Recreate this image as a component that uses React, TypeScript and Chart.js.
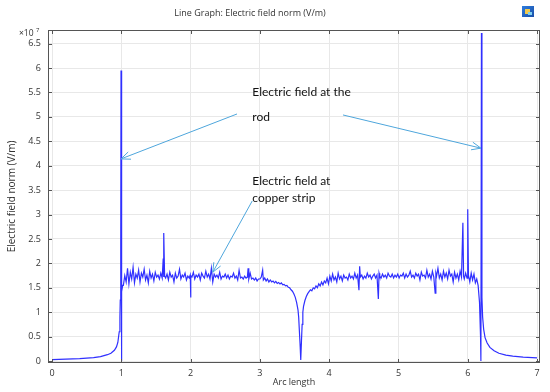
import React, { useEffect, useRef } from "react";
import { Chart, registerables } from "chart.js";

Chart.register(...registerables);

// ---- Data (arc length, electric field norm in units of 1e7 V/m) ----
const leftTail: [number, number][] = [
  [0, 0.03], [0.1, 0.035], [0.2, 0.04], [0.3, 0.045], [0.4, 0.05], [0.5, 0.06],
  [0.6, 0.07], [0.7, 0.09], [0.8, 0.13], [0.85, 0.16], [0.9, 0.22], [0.93, 0.29],
  [0.95, 0.38], [0.97, 0.6], [0.98, 0.9], [0.985, 1.25], [0.992, 2.4], [0.996, 5.95],
  [0.999, 0], [1.004, 1.3], [1.01, 1.42], [1.02, 1.55],
];

const stripLeft: [number, number][] = [
  [1.03, 1.55], [1.05, 1.75], [1.07, 1.62], [1.09, 1.9], [1.11, 1.58], [1.13, 1.82],
  [1.15, 1.68], [1.17, 1.92], [1.19, 1.6], [1.21, 1.78], [1.23, 1.7], [1.25, 1.86],
  [1.27, 1.62], [1.29, 1.8], [1.31, 1.72], [1.33, 1.88], [1.35, 1.66], [1.37, 1.76],
  [1.39, 1.6], [1.41, 1.84], [1.43, 1.7], [1.45, 1.78], [1.47, 1.64], [1.49, 1.82],
  [1.51, 1.72], [1.53, 1.76], [1.55, 1.68], [1.57, 1.8], [1.59, 1.7], [1.605, 2.1],
  [1.61, 1.72], [1.615, 2.62], [1.625, 1.74], [1.64, 1.7], [1.66, 1.78], [1.68, 1.66],
  [1.7, 1.82], [1.72, 1.72], [1.74, 1.76], [1.76, 1.62], [1.78, 1.8], [1.8, 1.7],
  [1.82, 1.74], [1.84, 1.88], [1.86, 1.68], [1.88, 1.76], [1.9, 1.72], [1.92, 1.8],
  [1.94, 1.66], [1.96, 1.74], [1.98, 1.7], [1.995, 1.76], [2.0, 1.3], [2.005, 1.74],
  [2.02, 1.72], [2.04, 1.82], [2.06, 1.68], [2.08, 1.76], [2.1, 1.72], [2.12, 1.78],
  [2.14, 1.66], [2.16, 1.8], [2.18, 1.74], [2.2, 1.7], [2.22, 1.84], [2.24, 1.72],
  [2.26, 1.78], [2.28, 1.68], [2.3, 1.9], [2.32, 1.62], [2.34, 1.78], [2.36, 1.72],
  [2.38, 1.76], [2.4, 1.7], [2.42, 1.82], [2.44, 1.68], [2.46, 1.74], [2.48, 1.72],
  [2.5, 1.78], [2.52, 1.7], [2.54, 1.76], [2.56, 1.68], [2.58, 1.74], [2.6, 1.72],
  [2.62, 1.8], [2.64, 1.7], [2.66, 1.74], [2.68, 1.66], [2.7, 1.86], [2.72, 1.7],
  [2.74, 1.72], [2.76, 1.68], [2.78, 1.74], [2.8, 1.7], [2.82, 1.72], [2.83, 1.9],
  [2.84, 1.68], [2.86, 1.8], [2.88, 1.68], [2.9, 1.7], [2.92, 1.66], [2.94, 1.7],
  [2.96, 1.64], [2.98, 1.68],
];

const centreDip: [number, number][] = [
  [3.0, 1.68], [3.02, 1.72], [3.04, 1.86], [3.05, 1.66], [3.07, 1.7], [3.09, 1.64],
  [3.11, 1.68], [3.13, 1.62], [3.15, 1.66], [3.17, 1.62], [3.19, 1.64], [3.21, 1.6],
  [3.23, 1.63], [3.25, 1.59], [3.27, 1.61], [3.29, 1.58], [3.31, 1.6], [3.33, 1.56],
  [3.35, 1.57], [3.37, 1.54], [3.39, 1.55], [3.41, 1.51], [3.43, 1.5], [3.45, 1.46],
  [3.47, 1.43], [3.49, 1.38], [3.51, 1.31], [3.53, 1.2], [3.55, 1.05], [3.56, 0.9],
  [3.57, 0.62], [3.58, 0.35], [3.59, 0.02], [3.6, 0.4], [3.61, 0.75], [3.62, 1.0],
  [3.63, 1.12], [3.65, 1.24], [3.67, 1.32], [3.69, 1.38], [3.71, 1.42], [3.73, 1.46],
  [3.75, 1.44], [3.77, 1.5], [3.79, 1.48], [3.81, 1.54], [3.83, 1.5], [3.85, 1.58],
  [3.87, 1.54], [3.89, 1.62], [3.91, 1.56], [3.93, 1.64], [3.95, 1.6],
];

const stripRight: [number, number][] = [
  [3.97, 1.7], [3.99, 1.58], [4.01, 1.74], [4.03, 1.64], [4.05, 1.78], [4.07, 1.66],
  [4.09, 1.72], [4.11, 1.62], [4.13, 1.8], [4.15, 1.68], [4.17, 1.74], [4.19, 1.64],
  [4.21, 1.76], [4.23, 1.7], [4.25, 1.72], [4.27, 1.66], [4.29, 1.78], [4.31, 1.7],
  [4.33, 1.74], [4.35, 1.68], [4.37, 1.8], [4.39, 1.7], [4.41, 1.76], [4.43, 1.45],
  [4.44, 1.94], [4.45, 1.72], [4.47, 1.76], [4.49, 1.68], [4.51, 1.74], [4.53, 1.7],
  [4.55, 1.8], [4.57, 1.72], [4.59, 1.76], [4.61, 1.68], [4.63, 1.74], [4.65, 1.78],
  [4.67, 1.7], [4.69, 1.76], [4.71, 1.27], [4.72, 1.8], [4.73, 1.74], [4.75, 1.7],
  [4.77, 1.78], [4.79, 1.72], [4.81, 1.76], [4.83, 1.7], [4.85, 1.8], [4.87, 1.74],
  [4.89, 1.72], [4.91, 1.78], [4.93, 1.7], [4.95, 1.76], [4.97, 1.72], [4.99, 1.78],
  [5.01, 1.7], [5.03, 1.76], [5.05, 1.74], [5.07, 1.8], [5.09, 1.7], [5.11, 1.78],
  [5.13, 1.72], [5.15, 1.76], [5.17, 1.84], [5.19, 1.72], [5.21, 1.76], [5.23, 1.7],
  [5.25, 1.8], [5.27, 1.74], [5.29, 1.78], [5.31, 1.66], [5.33, 1.82], [5.35, 1.74],
  [5.37, 1.76], [5.39, 1.7], [5.41, 1.86], [5.43, 1.72], [5.45, 1.78], [5.47, 1.68],
  [5.49, 1.84], [5.51, 1.72], [5.53, 1.39], [5.54, 1.8], [5.55, 1.74], [5.57, 1.9],
  [5.59, 1.7], [5.61, 1.78], [5.63, 1.66], [5.65, 1.84], [5.67, 1.72], [5.69, 1.8],
  [5.71, 1.68], [5.73, 1.86], [5.75, 1.74], [5.77, 1.78], [5.79, 1.62], [5.81, 1.82],
  [5.83, 1.7], [5.85, 1.78], [5.87, 1.66], [5.89, 1.84], [5.91, 1.72], [5.93, 2.83],
  [5.94, 1.74], [5.95, 1.68], [5.97, 1.8], [5.99, 1.7], [6.0, 3.11], [6.01, 1.76],
  [6.03, 1.62], [6.05, 1.8], [6.07, 1.66], [6.09, 1.78], [6.11, 1.6], [6.13, 1.68],
];

const rightTail: [number, number][] = [
  [6.15, 1.55], [6.17, 1.2], [6.185, 0.5], [6.19, 0.0], [6.198, 6.72], [6.205, 1.3],
  [6.215, 0.9], [6.23, 0.65], [6.25, 0.48], [6.28, 0.37], [6.32, 0.28], [6.38, 0.21],
  [6.45, 0.16], [6.55, 0.12], [6.65, 0.1], [6.8, 0.08], [7.0, 0.065],
];

const xTickValues = [0, 1, 2, 3, 4, 5, 6, 7];
const yTickValues = [0, 0.5, 1, 1.5, 2, 2.5, 3, 3.5, 4, 4.5, 5, 5.5, 6, 6.5];
const xLimits = [-0.058, 7.043];
const yLimits = [-0.04, 6.78];

const chartTitle = "Line Graph: Electric field norm (V/m)";
const xAxisTitle = "Arc length";
const yAxisTitle = "Electric field norm (V/m)";
const yExponent = "7";

const rodLabel = ["Electric field at the", "rod"];
const rodLabelAt = [2.89, 5.51];
const stripLabel = ["Electric field at", "copper strip"];
const stripLabelAt = [2.89, 3.69];
const arrows = [
  { from: [2.67, 5.06], to: [0.996, 4.14] },
  { from: [4.2, 5.04], to: [6.19, 4.36] },
  { from: [2.89, 3.28], to: [2.32, 1.82] },
];

const LINE_COLOR = "#3030ff";
const ARROW_COLOR = "#4ea6dc";
const AXIS_FONT = "'Open Sans', 'Liberation Sans', sans-serif";

const decorPlugin = {
  id: "decor",
  afterDraw(chart: any) {
    const ctx: CanvasRenderingContext2D = chart.ctx;
    const { left, right, top, bottom } = chart.chartArea;
    const xs = chart.scales.x;
    const ys = chart.scales.y;
    ctx.save();

    // frame
    ctx.strokeStyle = "#555";
    ctx.lineWidth = 1;
    ctx.strokeRect(Math.round(left) + 0.5, Math.round(top) + 0.5, Math.round(right - left) - 1, Math.round(bottom - top) - 1);

    // inside ticks
    ctx.beginPath();
    for (const v of xTickValues) {
      const px = Math.round(xs.getPixelForValue(v)) + 0.5;
      ctx.moveTo(px, bottom); ctx.lineTo(px, bottom - 4);
      ctx.moveTo(px, top); ctx.lineTo(px, top + 4);
    }
    for (const v of yTickValues) {
      const py = Math.round(ys.getPixelForValue(v)) + 0.5;
      ctx.moveTo(left, py); ctx.lineTo(left + 4, py);
      ctx.moveTo(right, py); ctx.lineTo(right - 4, py);
    }
    ctx.stroke();

    // titles
    ctx.fillStyle = "#333";
    ctx.textBaseline = "middle";
    ctx.textAlign = "center";
    ctx.font = `9px ${AXIS_FONT}`;
    ctx.fillText(chartTitle, 250, 13);
    ctx.fillText(xAxisTitle, (left + right) / 2, 382);
    ctx.save();
    ctx.translate(12, (top + bottom) / 2);
    ctx.rotate(-Math.PI / 2);
    ctx.font = `10px ${AXIS_FONT}`;
    ctx.fillText(yAxisTitle, 0, 0);
    ctx.restore();

    // exponent
    ctx.textAlign = "left";
    ctx.font = `8.5px ${AXIS_FONT}`;
    ctx.fillText("×10", 19, 34);
    ctx.font = `6px ${AXIS_FONT}`;
    ctx.fillText(yExponent, 36, 30);

    // icon
    const g = ctx.createLinearGradient(522, 5, 534, 17);
    g.addColorStop(0, "#2f7fe0");
    g.addColorStop(1, "#1a4fa8");
    ctx.fillStyle = g;
    ctx.fillRect(522, 6, 12, 11);
    ctx.fillStyle = "#f2c94c";
    ctx.fillRect(525, 9, 5, 5);
    ctx.fillStyle = "#7fd0f0";
    ctx.fillRect(528, 12, 4, 3);

    // annotation text
    ctx.fillStyle = "#111";
    ctx.font = "12px Lato, 'Open Sans', sans-serif";
    ctx.textAlign = "left";
    const drawLabel = (lines: string[], at: number[], gap: number) => {
      const x0 = xs.getPixelForValue(at[0]);
      const y0 = ys.getPixelForValue(at[1]);
      lines.forEach((t, i) => ctx.fillText(t, x0, y0 + i * gap));
    };
    drawLabel(rodLabel, rodLabelAt, 25);
    drawLabel(stripLabel, stripLabelAt, 17);

    // arrows
    ctx.strokeStyle = ARROW_COLOR;
    ctx.lineWidth = 1;
    for (const a of arrows) {
      const x1 = xs.getPixelForValue(a.from[0]);
      const y1 = ys.getPixelForValue(a.from[1]);
      const x2 = xs.getPixelForValue(a.to[0]);
      const y2 = ys.getPixelForValue(a.to[1]);
      const ang = Math.atan2(y2 - y1, x2 - x1);
      const head = 10;
      ctx.beginPath();
      ctx.moveTo(x1, y1);
      ctx.lineTo(x2, y2);
      ctx.moveTo(x2 - head * Math.cos(ang - 0.4), y2 - head * Math.sin(ang - 0.4));
      ctx.lineTo(x2, y2);
      ctx.lineTo(x2 - head * Math.cos(ang + 0.4), y2 - head * Math.sin(ang + 0.4));
      ctx.stroke();
    }
    ctx.restore();
  },
};

export default function App() {
  const ref = useRef<HTMLCanvasElement | null>(null);
  useEffect(() => {
    document.body.style.margin = "0";
    document.body.style.background = "#fff";
    const canvas = ref.current;
    if (!canvas) return;
    const points = [...leftTail, ...stripLeft, ...centreDip, ...stripRight, ...rightTail].map(([x, y]) => ({ x, y }));
    const chart = new Chart(canvas, {
      type: "line",
      data: {
        datasets: [
          {
            data: points,
            borderColor: LINE_COLOR,
            borderWidth: 1.2,
            pointRadius: 0,
            tension: 0,
            fill: false,
          },
        ],
      },
      options: {
        animation: false,
        responsive: false,
        maintainAspectRatio: false,
        layout: { padding: { top: 30, right: 10, left: 0, bottom: 0 } },
        plugins: { legend: { display: false }, title: { display: false }, tooltip: { enabled: false } },
        scales: {
          x: {
            type: "linear",
            min: xLimits[0],
            max: xLimits[1],
            afterFit: (s: any) => { s.height = 29; },
            afterBuildTicks: (s: any) => { s.ticks = xTickValues.map((v) => ({ value: v })); },
            grid: { color: "#e8e8e8", drawTicks: false },
            border: { display: false },
            ticks: { color: "#333", padding: 5, font: { family: AXIS_FONT, size: 9 }, maxRotation: 0 },
          },
          y: {
            type: "linear",
            min: yLimits[0],
            max: yLimits[1],
            afterFit: (s: any) => { s.width = 48; },
            afterBuildTicks: (s: any) => { s.ticks = yTickValues.map((v) => ({ value: v })); },
            grid: { color: "#e8e8e8", drawTicks: false },
            border: { display: false },
            ticks: { color: "#333", padding: 7, font: { family: AXIS_FONT, size: 9 }, callback: (v: any) => String(v) },
          },
        },
      },
      plugins: [decorPlugin],
    });
    return () => chart.destroy();
  }, []);
  return <canvas ref={ref} width={550} height={392} style={{ display: "block", width: 550, height: 392 }} />;
}
